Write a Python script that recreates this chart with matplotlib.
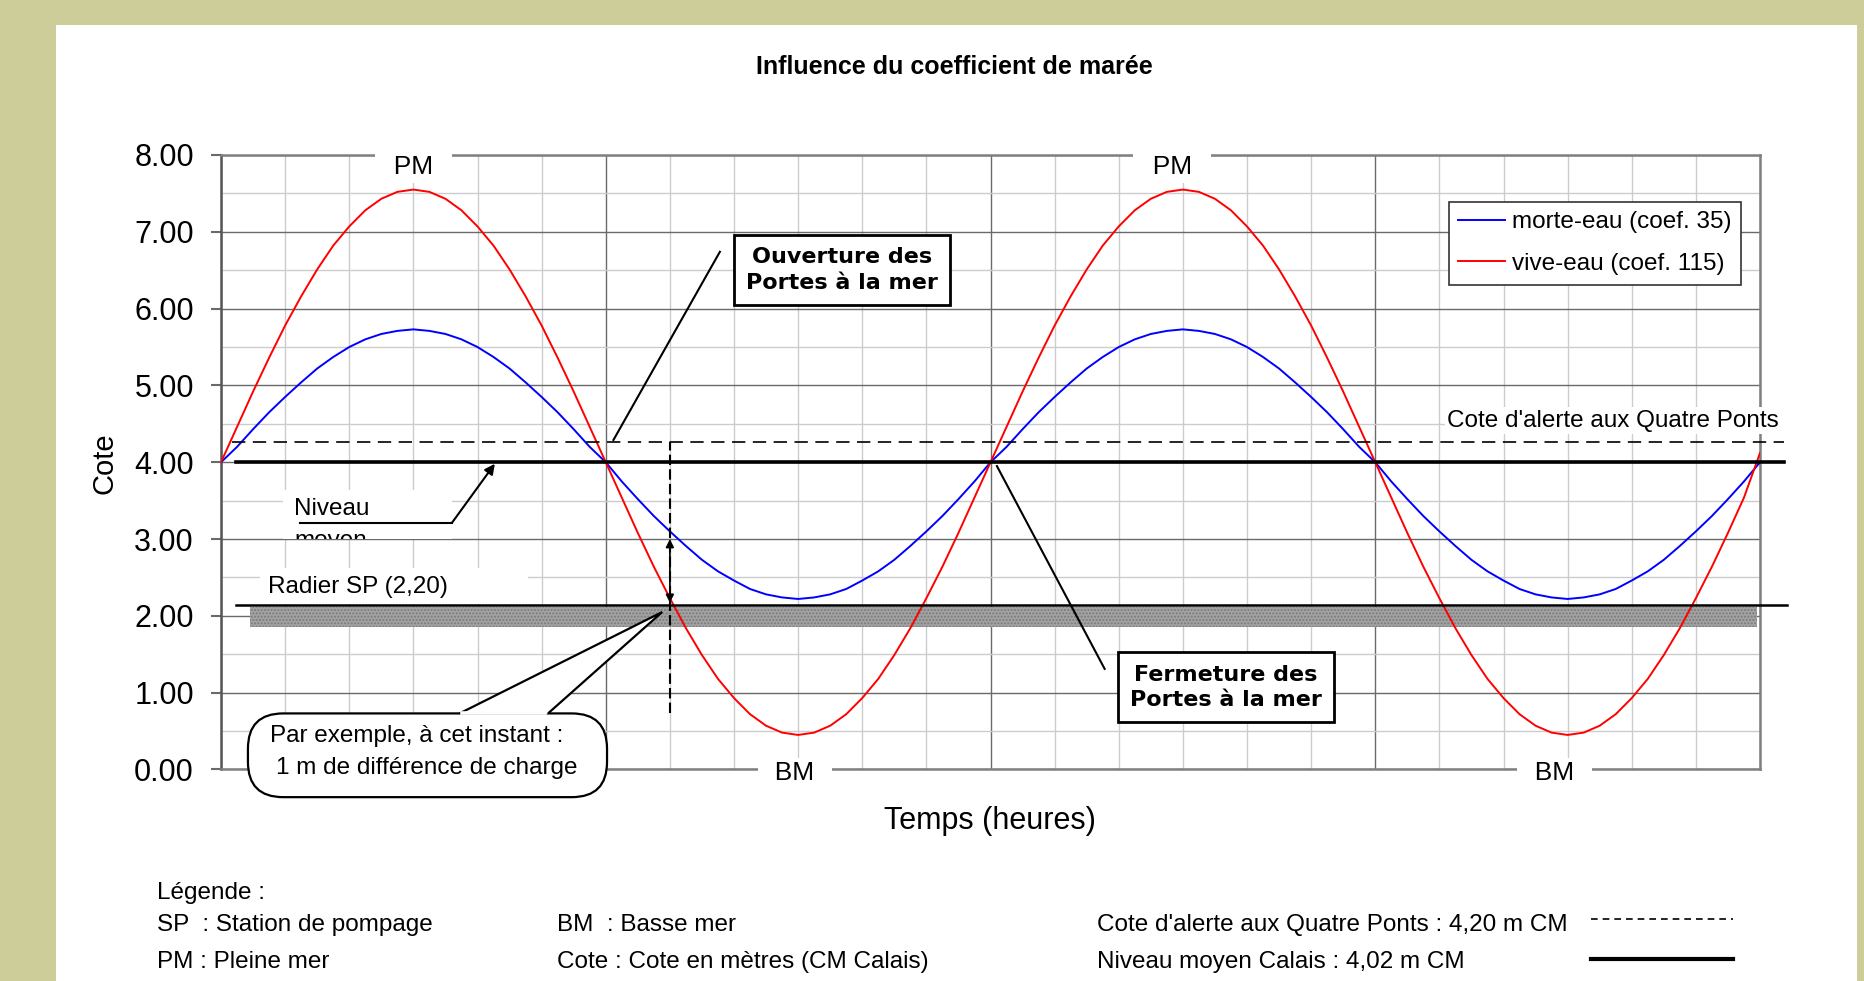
import numpy as np
import matplotlib
matplotlib.use("Agg")
import matplotlib.pyplot as plt
from matplotlib.patches import Rectangle, FancyBboxPatch, Polygon
from matplotlib.lines import Line2D
from matplotlib.transforms import Bbox, TransformedBbox

plt.rcParams['font.family'] = ['Liberation Sans', 'DejaVu Sans']

# temps en heures (pas d'un quart d'heure) et cotes
heures = np.arange(0, 24.01, 0.25)
morte_eau = [4.00, 4.20, 4.43, 4.65, 4.85, 5.04, 5.22, 5.37, 5.50, 5.60, 5.67, 5.71, 5.73,
             5.71, 5.67, 5.60, 5.50, 5.37, 5.22, 5.04, 4.85, 4.65, 4.43, 4.20,
             4.00, 3.75, 3.52, 3.30, 3.10, 2.91, 2.73, 2.58, 2.46, 2.35, 2.28, 2.24, 2.22,
             2.24, 2.28, 2.35, 2.46, 2.58, 2.73, 2.91, 3.10, 3.30, 3.52, 3.75,
             4.00, 4.20, 4.43, 4.65, 4.85, 5.04, 5.22, 5.37, 5.50, 5.60, 5.67, 5.71, 5.73,
             5.71, 5.67, 5.60, 5.50, 5.37, 5.22, 5.04, 4.85, 4.65, 4.43, 4.20,
             4.00, 3.75, 3.52, 3.30, 3.10, 2.91, 2.73, 2.58, 2.46, 2.35, 2.28, 2.24, 2.22,
             2.24, 2.28, 2.35, 2.46, 2.58, 2.73, 2.91, 3.10, 3.30, 3.52, 3.75,
             4.00]
vive_eau = [4.00, 4.46, 4.92, 5.36, 5.78, 6.16, 6.51, 6.82, 7.07, 7.28, 7.43, 7.52, 7.55,
            7.52, 7.43, 7.28, 7.07, 6.82, 6.51, 6.16, 5.78, 5.36, 4.92, 4.46,
            4.00, 3.54, 3.08, 2.64, 2.23, 1.84, 1.49, 1.18, 0.93, 0.72, 0.57, 0.48, 0.45,
            0.48, 0.57, 0.72, 0.93, 1.18, 1.49, 1.84, 2.23, 2.64, 3.08, 3.54,
            4.00, 4.46, 4.92, 5.36, 5.78, 6.16, 6.51, 6.82, 7.07, 7.28, 7.43, 7.52, 7.55,
            7.52, 7.43, 7.28, 7.07, 6.82, 6.51, 6.16, 5.78, 5.36, 4.92, 4.46,
            4.00, 3.54, 3.08, 2.64, 2.23, 1.84, 1.49, 1.18, 0.93, 0.72, 0.57, 0.48, 0.45,
            0.48, 0.57, 0.72, 0.93, 1.18, 1.49, 1.84, 2.23, 2.64, 3.08, 3.54,
            4.12]
series_labels = ['morte-eau (coef. 35)', 'vive-eau (coef. 115)']

# niveaux de référence tracés
cote_alerte = 4.27
niveau_moyen = 4.00
radier_sp = 2.14
instant = 7.0          # heure de l'exemple
pm_heures = [3.0, 14.83]
bm_heures = [8.95, 20.8]
y_ticks = np.arange(0, 9, 1)

fig = plt.figure(figsize=(18.65, 9.81), dpi=100, facecolor='#cdcd9a')
fig.add_artist(Rectangle((0.030, 0), 0.9657, 0.9745, transform=fig.transFigure,
                         facecolor='white', edgecolor='none', zorder=-1))

ax = fig.add_axes([0.1185, 0.2156, 0.8252, 0.6264])
ax.set_xlim(0, 24)
ax.set_ylim(0, 8)

# grille
ax.set_xticks([0, 6, 12, 18, 24])
ax.set_xticks(np.arange(1, 24, 1), minor=True)
ax.set_yticks(y_ticks)
ax.set_yticks(np.arange(0.5, 8, 1), minor=True)
ax.set_yticklabels(['%.2f' % v for v in y_ticks])
ax.set_xticklabels([])
ax.grid(which='minor', color='#cccccc', lw=1.0)
ax.grid(which='major', color='#6a6a6a', lw=1.0)
ax.set_axisbelow(True)
ax.tick_params(axis='x', which='both', length=0)
ax.tick_params(axis='y', which='minor', length=0)
ax.tick_params(axis='y', which='major', length=7.5, width=1.5, color='#6a6a6a',
               labelsize=22, pad=12)
for s in ['top', 'right', 'bottom']:
    ax.spines[s].set_color('#808080')
    ax.spines[s].set_linewidth(1.8)
ax.spines['left'].set_color('#555555')
ax.spines['left'].set_linewidth(1.8)

# courbes
ax.plot(heures, morte_eau, color='#0000ff', lw=1.4, label=series_labels[0], zorder=4)
ax.plot(heures, vive_eau, color='#ff0000', lw=1.4, label=series_labels[1], zorder=4)

leg = ax.legend(loc='upper right', bbox_to_anchor=(0.9877, 0.924), borderaxespad=0,
                fontsize=17.5, handlelength=1.9, handletextpad=0.3, borderpad=0.4,
                labelspacing=0.8, fancybox=False, framealpha=1, edgecolor='#333333')
leg.get_frame().set_linewidth(1.2)
leg.set_zorder(6)

# bande radier
ax.add_patch(Rectangle((0.45, 1.86), 23.51, 0.26, facecolor='#a3a3a3', edgecolor='#7a7a7a',
                       hatch='.....', lw=0, zorder=3))
ax.plot([0.23, 24.42], [radier_sp, radier_sp], color='black', lw=1.8, zorder=5, clip_on=False)
ax.plot([0.23, 24.37], [niveau_moyen, niveau_moyen], color='black', lw=2.6, zorder=5, clip_on=False)
ax.plot([0.17, 24.38], [cote_alerte, cote_alerte], color='black', lw=1.2, ls=(0, (8, 4.5)),
        zorder=5, clip_on=False)

# exemple à t = 7 h
ax.plot([instant, instant], [0.73, cote_alerte], color='black', lw=1.5, ls=(0, (5, 2)), zorder=5)
ax.annotate('', xy=(instant, 3.0), xytext=(instant, 2.17),
            arrowprops=dict(arrowstyle='<|-|>', color='black', lw=1.2, mutation_scale=12,
                            shrinkA=0, shrinkB=0), zorder=6)

# étiquettes PM / BM
for h in pm_heures:
    ax.text(h, 7.85, '  PM  ', ha='center', va='center', fontsize=19,
            bbox=dict(facecolor='white', edgecolor='none', pad=3), zorder=6, clip_on=False)
for h in bm_heures:
    ax.text(h, -0.04, '  BM  ', ha='center', va='center', fontsize=19,
            bbox=dict(facecolor='white', edgecolor='none', pad=2), zorder=6, clip_on=False)

ax.text(24.3, 4.54, "Cote d'alerte aux Quatre Ponts", ha='right', va='center', fontsize=17.5,
        bbox=dict(facecolor='white', edgecolor='none', pad=2), zorder=6, clip_on=False)

# Niveau moyen
ax.add_patch(Rectangle((0.97, 3.0), 2.63, 0.64, facecolor='white', edgecolor='none', zorder=2))
ax.text(1.14, 3.39, 'Niveau', ha='left', va='center', fontsize=17.5, zorder=6)
t_moyen = ax.text(1.14, 2.90, 'moyen', ha='left', va='baseline', fontsize=17.5, zorder=6)
t_moyen.set_clip_box(TransformedBbox(Bbox([[0, 3.0], [24, 8]]), ax.transData))
t_moyen.set_clip_on(True)
ax.plot([1.23, 3.6], [3.21, 3.21], color='black', lw=1.5, zorder=6)
ax.annotate('', xy=(4.27, 3.98), xytext=(3.6, 3.21),
            arrowprops=dict(arrowstyle='-|>', color='black', lw=1.5, mutation_scale=15,
                            shrinkA=0, shrinkB=0), zorder=6)

# Radier SP
ax.add_patch(Rectangle((0.61, 2.16), 4.18, 0.46, facecolor='white', edgecolor='none', zorder=2))
ax.text(0.73, 2.38, 'Radier SP (2,20)', ha='left', va='center', fontsize=17.5, zorder=6)

# Ouverture / Fermeture
ax.plot([6.12, 7.78], [4.29, 6.74], color='black', lw=1.5, zorder=6)
ax.text(9.68, 6.5, 'Ouverture des\nPortes à la mer', ha='center', va='center',
        fontsize=16, fontfamily='DejaVu Sans', weight='bold', linespacing=1.35,
        bbox=dict(boxstyle='square,pad=0.55', facecolor='white', edgecolor='black', lw=2),
        zorder=7)
ax.plot([12.1, 13.78], [3.95, 1.31], color='black', lw=1.5, zorder=6)
ax.text(15.67, 1.07, 'Fermeture des\nPortes à la mer', ha='center', va='center',
        fontsize=16, fontfamily='DejaVu Sans', weight='bold', linespacing=1.35,
        bbox=dict(boxstyle='square,pad=0.55', facecolor='white', edgecolor='black', lw=2),
        zorder=7)

# bulle
ax.add_patch(FancyBboxPatch((0.42, -0.36), 5.6, 1.09, boxstyle='round,pad=0,rounding_size=0.55',
                            mutation_aspect=0.834, facecolor='white', edgecolor='black', lw=1.6,
                            zorder=7, clip_on=False))
ax.add_patch(Polygon([(3.72, 0.73), (6.88, 2.05), (5.1, 0.73)], closed=False,
                     facecolor='white', edgecolor='black', lw=1.6, zorder=7.5, clip_on=False))
ax.plot([3.76, 5.06], [0.73, 0.73], color='white', lw=2.6, zorder=7.6, clip_on=False)
ax.text(0.76, 0.43, 'Par exemple, à cet instant :', ha='left', va='center', fontsize=17.5,
        zorder=8, clip_on=False)
ax.text(0.86, 0.02, '1 m de différence de charge', ha='left', va='center', fontsize=17.5,
        zorder=8, clip_on=False)

# titres
fig.text(0.5115, 0.932, 'Influence du coefficient de marée', ha='center', va='center',
         fontsize=18, weight='bold')
fig.text(0.0561, 0.5283, 'Cote', ha='center', va='center', rotation=90, fontsize=21)
fig.text(0.531, 0.1634, 'Temps (heures)', ha='center', va='center', fontsize=22)

# légende du bas
fs = 17.5
fig.text(0.0842, 0.0897, 'Légende :', va='center', fontsize=fs)
fig.text(0.0842, 0.0568, 'SP  : Station de pompage', va='center', fontsize=fs)
fig.text(0.0842, 0.0193, 'PM : Pleine mer', va='center', fontsize=fs)
fig.text(0.2985, 0.0568, 'BM  : Basse mer', va='center', fontsize=fs)
fig.text(0.2985, 0.0193, 'Cote : Cote en mètres (CM Calais)', va='center', fontsize=fs)
fig.text(0.588, 0.0568, "Cote d'alerte aux Quatre Ponts : 4,20 m CM", va='center', fontsize=fs)
fig.text(0.588, 0.0193, 'Niveau moyen Calais : 4,02 m CM', va='center', fontsize=fs)
fig.add_artist(Line2D([0.8533, 0.9292], [0.0628, 0.0628], transform=fig.transFigure,
                      color='black', lw=1.2, ls=(0, (4, 3))))
fig.add_artist(Line2D([0.8533, 0.9292], [0.0228, 0.0228], transform=fig.transFigure,
                      color='black', lw=3))

fig.savefig('out.png', dpi=100, facecolor=fig.get_facecolor())
